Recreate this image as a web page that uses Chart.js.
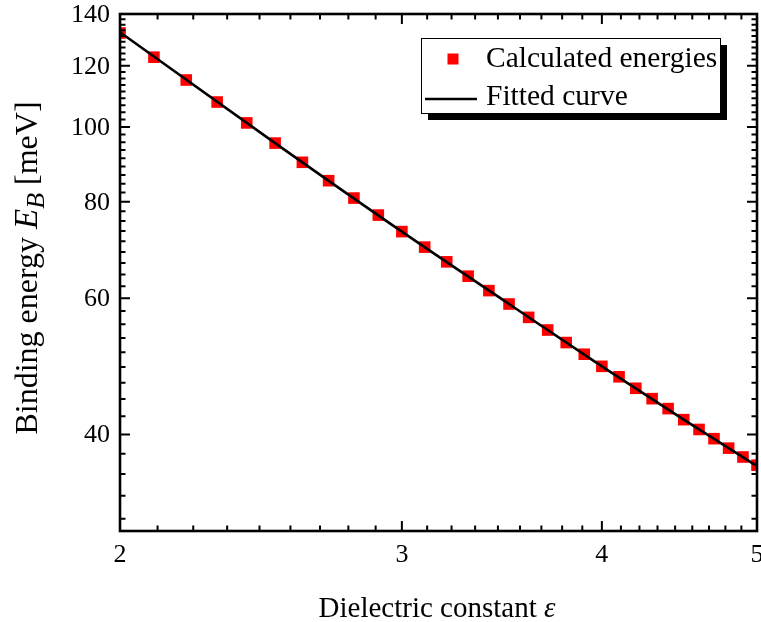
<!DOCTYPE html>
<html><head><meta charset="utf-8">
<script src="https://cdn.jsdelivr.net/npm/chart.js@4.4.1/dist/chart.umd.min.js"></script>
<style>html,body{margin:0;padding:0;background:#fff;}canvas{display:block;}</style>
</head><body>
<canvas id="c" width="761" height="622"></canvas>
<script>
// ---- data ----
const epsilon = [2.0,2.1,2.2,2.3,2.4,2.5,2.6,2.7,2.8,2.9,3.0,3.1,3.2,3.3,3.4,3.5,3.6,3.7,3.8,3.9,4.0,4.1,4.2,4.3,4.4,4.5,4.6,4.7,4.8,4.9,5.0];
const bindingEnergy = [132.3,123.1,115.0,107.7,101.2,95.3,90.0,85.2,80.9,76.9,73.2,69.9,66.9,64.1,61.4,59.0,56.7,54.6,52.6,50.8,49.0,47.5,45.9,44.5,43.2,41.8,40.6,39.5,38.4,37.4,36.5];
const fitEpsilon = [2.0,2.5,3.0,3.5,4.0,4.5,5.0];
const fitEnergy = [132.6,95.3,73.2,59.0,49.0,41.8,36.4];
const xMajorTicks = [2,3,4,5];
const yMajorTicks = [40,60,80,100,120,140];
const xMin = 2, xMax = 5, yMin = 30, yMax = 140;
const minorPerInterval = 8;
const legendLabels = ['Calculated energies','Fitted curve'];
const xTitle = 'Dielectric constant ';
const xTitleSymbol = '\u03B5';
const yTitleParts = ['Binding energy ', 'E', 'B', ' [meV]'];

const SERIF = '"Liberation Serif", "Times New Roman", serif';

function minorTicks(majors, lo, hi) {
  const out = [];
  for (let i = 0; i < majors.length - 1; i++) {
    const step = (majors[i+1] - majors[i]) / (minorPerInterval + 1);
    for (let k = 1; k <= minorPerInterval; k++) out.push(majors[i] + k * step);
  }
  const step0 = (majors[1] - majors[0]) / (minorPerInterval + 1);
  for (let v = majors[0] - step0; v > lo; v -= step0) out.push(v);
  return out.filter(v => v >= lo && v <= hi);
}

const framePlugin = {
  id: 'frame',
  afterDraw(chart) {
    const ctx = chart.ctx, a = chart.chartArea;
    const xs = chart.scales.x, ys = chart.scales.y;
    ctx.save();
    ctx.strokeStyle = '#000';
    ctx.lineWidth = 2;
    const MAJ = 10, MIN = 5.5;
    const xMinor = minorTicks(xMajorTicks, xMin, xMax);
    const yMinor = minorTicks(yMajorTicks, yMin, yMax);
    ctx.beginPath();
    const xt = (v, len) => { const p = xs.getPixelForValue(v);
      ctx.moveTo(p, a.bottom); ctx.lineTo(p, a.bottom - len);
      ctx.moveTo(p, a.top); ctx.lineTo(p, a.top + len); };
    const yt = (v, len) => { const p = ys.getPixelForValue(v);
      ctx.moveTo(a.left, p); ctx.lineTo(a.left + len, p);
      ctx.moveTo(a.right, p); ctx.lineTo(a.right - len, p); };
    xMajorTicks.forEach(v => xt(v, MAJ));
    xMinor.forEach(v => xt(v, MIN));
    yMajorTicks.forEach(v => yt(v, MAJ));
    yMinor.forEach(v => yt(v, MIN));
    ctx.stroke();
    ctx.lineWidth = 2.6;
    ctx.strokeRect(a.left, a.top, a.right - a.left, a.bottom - a.top);

    // tick labels
    ctx.fillStyle = '#000';
    ctx.font = '26px ' + SERIF;
    ctx.textAlign = 'right'; ctx.textBaseline = 'middle';
    yMajorTicks.forEach(v => ctx.fillText(String(v), a.left - 10, ys.getPixelForValue(v) + 1));
    ctx.textAlign = 'center'; ctx.textBaseline = 'middle';
    xMajorTicks.forEach(v => {
      const p = xs.getPixelForValue(v);
      ctx.fillText(String(v), p, a.bottom + 24);
    });

    // x title
    ctx.font = '29px ' + SERIF;
    const w1 = ctx.measureText(xTitle).width;
    ctx.font = 'italic 29px ' + SERIF;
    const w2 = ctx.measureText(xTitleSymbol).width;
    const sx = 437 - (w1 + w2) / 2;
    ctx.textAlign = 'left'; ctx.textBaseline = 'alphabetic';
    ctx.font = '29px ' + SERIF; ctx.fillText(xTitle, sx, 617);
    ctx.font = 'italic 29px ' + SERIF; ctx.fillText(xTitleSymbol, sx + w1, 617);

    // y title (rotated)
    ctx.save();
    ctx.translate(37, 268);
    ctx.rotate(-Math.PI / 2);
    const fN = '32px ' + SERIF, fI = 'italic 33px ' + SERIF, fS = 'italic 26px ' + SERIF;
    ctx.font = fN; const a1 = ctx.measureText(yTitleParts[0]).width;
    ctx.font = fI; const a2 = ctx.measureText(yTitleParts[1]).width;
    ctx.font = fS; const a3 = ctx.measureText(yTitleParts[2]).width;
    ctx.font = fN; const a4 = ctx.measureText(yTitleParts[3]).width;
    let tx = -(a1 + a2 + a3 + a4) / 2;
    ctx.textAlign = 'left'; ctx.textBaseline = 'alphabetic';
    ctx.font = fN; ctx.fillText(yTitleParts[0], tx, 0); tx += a1;
    ctx.font = fI; ctx.fillText(yTitleParts[1], tx, 0); tx += a2;
    ctx.font = fS; ctx.fillText(yTitleParts[2], tx, 7); tx += a3;
    ctx.font = fN; ctx.fillText(yTitleParts[3], tx, 0);
    ctx.restore();

    // legend box with shadow
    const L = 421, T = 38, W = 299, H = 75;
    ctx.fillStyle = '#000';
    ctx.fillRect(L + 7, T + 7, W, H);
    ctx.fillStyle = '#fff';
    ctx.fillRect(L, T, W, H);
    ctx.lineWidth = 1; ctx.strokeStyle = '#000';
    ctx.strokeRect(L + 0.5, T + 0.5, W, H);
    ctx.fillStyle = '#ff0000';
    ctx.fillRect(447.5, 53.5, 11, 11);
    ctx.strokeStyle = '#000'; ctx.lineWidth = 2.6;
    ctx.beginPath(); ctx.moveTo(425, 99); ctx.lineTo(477, 99); ctx.stroke();
    ctx.fillStyle = '#000';
    ctx.font = '29.5px ' + SERIF; ctx.textAlign = 'left'; ctx.textBaseline = 'middle';
    ctx.fillText(legendLabels[0], 486, 59);
    ctx.fillText(legendLabels[1], 486, 97);
    ctx.restore();
  }
};

new Chart(document.getElementById('c').getContext('2d'), {
  type: 'scatter',
  data: {
    datasets: [
      {
        label: legendLabels[1],
        data: fitEpsilon.map((x, i) => ({ x, y: fitEnergy[i] })),
        showLine: true, borderColor: '#000', borderWidth: 2.6,
        pointRadius: 0, fill: false, order: 0,
        cubicInterpolationMode: 'monotone'
      },
      {
        label: legendLabels[0],
        data: epsilon.map((x, i) => ({ x, y: bindingEnergy[i] })),
        pointStyle: 'rect', pointRadius: 8.2, pointBorderWidth: 0,
        backgroundColor: '#ff0000', borderColor: '#ff0000', order: 1
      }
    ]
  },
  options: {
    responsive: false, animation: false, devicePixelRatio: 1,
    layout: { autoPadding: false, padding: { left: 120, top: 14, right: 4, bottom: 91 } },
    plugins: { legend: { display: false }, tooltip: { enabled: false } },
    scales: {
      x: { type: 'logarithmic', min: xMin, max: xMax, display: false },
      y: { type: 'logarithmic', min: yMin, max: yMax, display: false }
    }
  },
  plugins: [framePlugin]
});
</script>
</body></html>
